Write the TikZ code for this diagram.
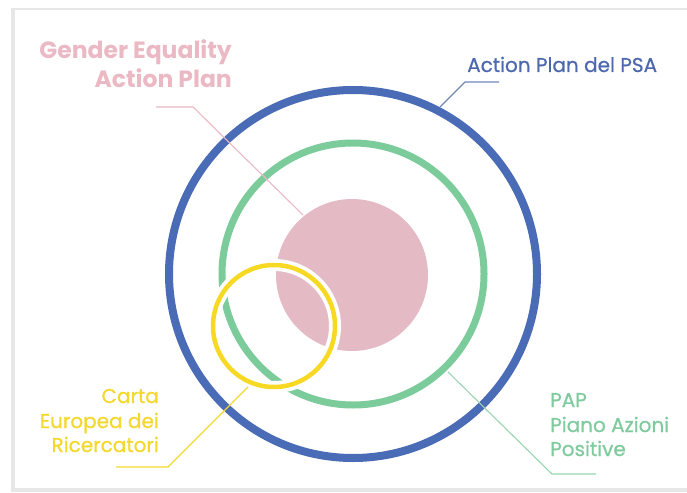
\documentclass[tikz,border=0pt]{standalone}
\usepackage{fontspec}
\setmainfont{Poppins}
\newfontfamily\labelfont{Poppins}[FakeBold=0.7]
\definecolor{ringblue}{HTML}{4A6BB5}
\definecolor{ringgreen}{HTML}{7CCB9B}
\definecolor{discpink}{HTML}{E4BAC5}
\definecolor{ringyellow}{HTML}{F7D923}
\definecolor{txtpink}{HTML}{EBB9C4}
\definecolor{txtblue}{HTML}{4D68AE}
\definecolor{txtgreen}{HTML}{80CB9E}
\definecolor{txtyellow}{HTML}{F5D82E}
\definecolor{cardedge}{HTML}{D6D6D6}
\begin{document}
\begin{tikzpicture}[x=1pt,y=-1pt,
  lbl/.style={inner sep=0pt, font=\labelfont\fontsize{20}{24}\selectfont},
  biglbl/.style={inner sep=0pt, font=\fontsize{23.5}{28}\selectfont\bfseries, text=txtpink},
  leader/.style={line width=1.1pt}]
\useasboundingbox (0,0) rectangle (687,492);
% card
\fill[cardedge!60] (11,8) rectangle (687,492);
\fill[white] (15,10) rectangle (687,488);
% rings
\coordinate (c) at (353,274);
\draw[ringblue, line width=8pt] (c) circle[radius=184pt];
\draw[ringgreen, line width=7pt] (c) circle[radius=131pt];
\fill[discpink] (352,275) circle[radius=76pt];
\coordinate (cy) at (274,326);
\draw[white, line width=12pt] (cy) circle[radius=61pt];
\draw[ringyellow, line width=4.5pt] (cy) circle[radius=61pt];
% labels
\node[biglbl, anchor=base east] (ge1) at (232,59) {Gender Equality};
\node[biglbl, anchor=base east] (ge2) at (232,88) {Action Plan};
\node[lbl, anchor=base west, text=txtblue] (psa) at (467,72) {Action Plan del PSA};
\node[lbl, anchor=base east, text=txtyellow] (ca1) at (159,403) {Carta};
\node[lbl, anchor=base east, text=txtyellow] (ca2) at (159,428) {Europea dei};
\node[lbl, anchor=base east, text=txtyellow] (ca3) at (159,452) {Ricercatori};
\node[lbl, anchor=base west, text=txtgreen] (pap1) at (550,407) {PAP};
\node[lbl, anchor=base west, text=txtgreen] (pap2) at (550,432) {Piano Azioni};
\node[lbl, anchor=base west, text=txtgreen] (pap3) at (550,456) {Positive};
% leaders
\coordinate (pkA) at (156,107); \coordinate (pkB) at (193,107); \coordinate (pkC) at (303,215);
\draw[leader, txtpink] (pkA) -- (pkB) -- (pkC);
\coordinate (blA) at (499,82); \coordinate (blB) at (465,82); \coordinate (blC) at (440,107);
\draw[leader, txtblue!80] (blA) -- (blB) -- (blC);
\coordinate (yeA) at (116,467); \coordinate (yeB) at (168,467); \coordinate (yeC) at (248,387);
\draw[leader, txtyellow] (yeA) -- (yeB) -- (yeC);
\coordinate (grA) at (596,474); \coordinate (grB) at (552,474); \coordinate (grC) at (448,372);
\draw[leader, txtgreen!80] (grA) -- (grB) -- (grC);
\end{tikzpicture}
\end{document}
